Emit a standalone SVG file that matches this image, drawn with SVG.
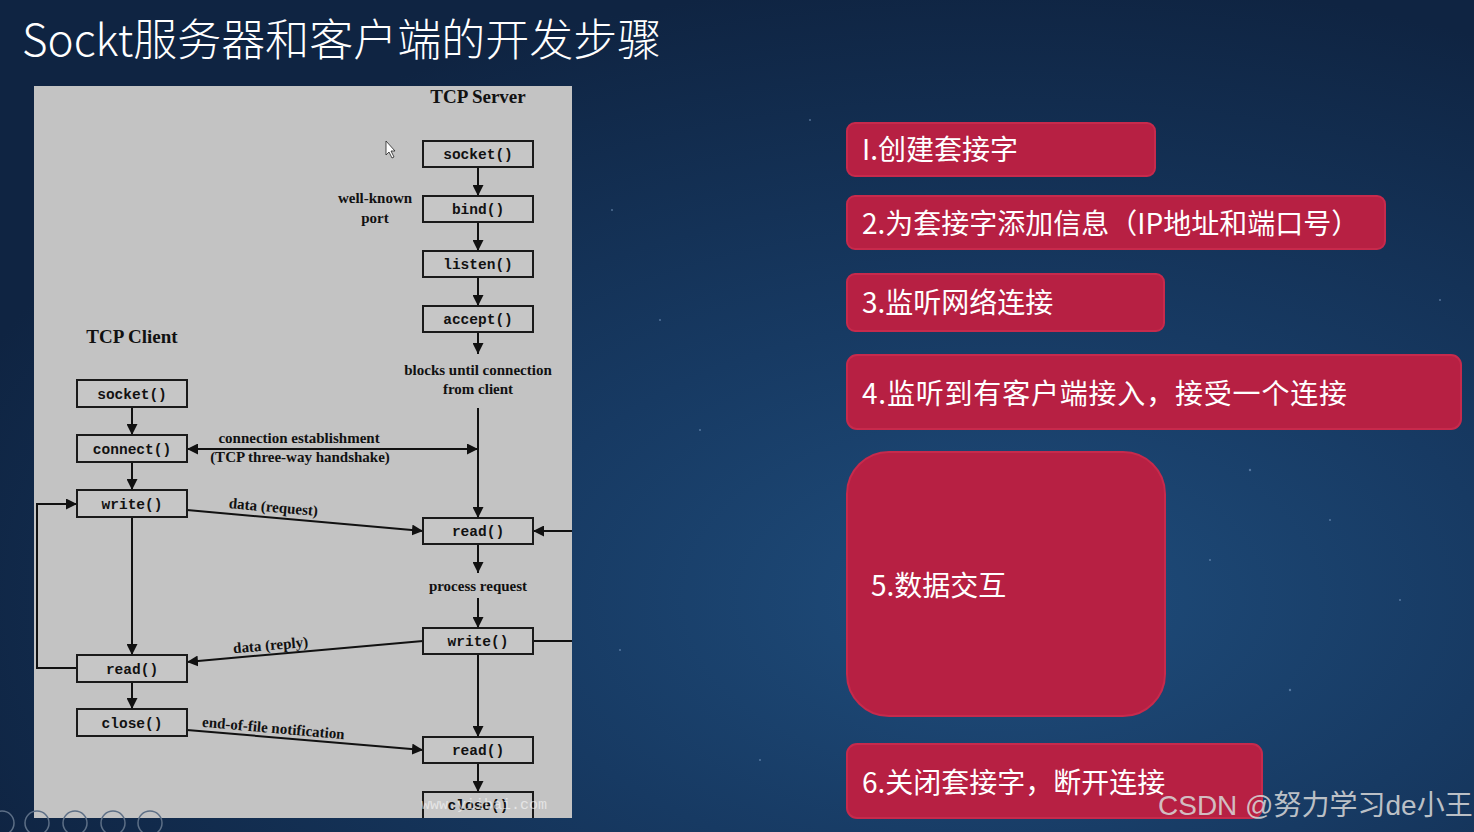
<svg xmlns="http://www.w3.org/2000/svg" width="1474" height="832" viewBox="0 0 1474 832">
<defs>
<radialGradient id="bg" cx="0.68" cy="0.72" r="0.75">
<stop offset="0" stop-color="#1f4d7c"/>
<stop offset="0.45" stop-color="#173a63"/>
<stop offset="1" stop-color="#0f2442"/>
</radialGradient>
<marker id="ah" viewBox="0 0 10 10" refX="10" refY="5" markerWidth="11" markerHeight="11" markerUnits="userSpaceOnUse" orient="auto-start-reverse">
<path d="M0,0 L10,5 L0,10 z" fill="#111"/>
</marker>
<style>
.panel{fill:#c3c3c3}
.fn{fill:#c6c6c6;stroke:#1a1a1a;stroke-width:2}
.fnt{font-family:"Liberation Mono",monospace;font-size:14.5px;font-weight:bold;fill:#111;text-anchor:middle}
.lbl{font-family:"Liberation Serif",serif;font-size:15px;font-weight:bold;fill:#111;text-anchor:middle}
.hd{font-family:"Liberation Serif",serif;font-size:19px;font-weight:bold;fill:#111;text-anchor:middle}
.ln{stroke:#111;stroke-width:2;fill:none}
.step{fill:#b72043;stroke:#c72a4c;stroke-width:2}
.stx{font-family:"Noto Sans CJK SC","Noto Sans",sans-serif;font-size:28px;fill:#ffffff}
.ttl{font-family:"Noto Sans CJK SC","Noto Sans",sans-serif;font-size:44px;font-weight:300;fill:#ffffff}
.ui{fill:none;stroke:#5d6f86;stroke-width:1.5}
</style>
</defs>
<rect width="1474" height="832" fill="url(#bg)"/>
<g fill="#8fb0d8" opacity="0.5">
<circle cx="612" cy="210" r="1"/><circle cx="700" cy="430" r="1"/><circle cx="810" cy="120" r="1"/><circle cx="1250" cy="470" r="1.2"/><circle cx="1330" cy="520" r="1"/><circle cx="1400" cy="600" r="1"/><circle cx="620" cy="650" r="1"/><circle cx="1440" cy="300" r="1"/><circle cx="760" cy="760" r="1"/><circle cx="1290" cy="690" r="1.2"/><circle cx="1210" cy="560" r="1"/><circle cx="660" cy="320" r="1"/>
</g>
<text class="ttl" x="22" y="56">Sockt服务器和客户端的开发步骤</text>

<g id="panel">
<rect class="panel" x="34" y="86" width="538" height="732"/>
<text class="hd" x="478" y="103">TCP Server</text>
<text class="hd" x="132" y="343">TCP Client</text>
<text class="lbl" x="375" y="203">well-known</text>
<text class="lbl" x="375" y="223">port</text>
<text class="lbl" x="478" y="375">blocks until connection</text>
<text class="lbl" x="478" y="394">from client</text>
<text class="lbl" x="299" y="443">connection establishment</text>
<text class="lbl" x="300" y="462">(TCP three-way handshake)</text>
<text class="lbl" x="273" y="512" transform="rotate(5 273 512)">data (request)</text>
<text class="lbl" x="478" y="591">process request</text>
<text class="lbl" x="271" y="650" transform="rotate(-5 271 650)">data (reply)</text>
<text class="lbl" x="273" y="733" transform="rotate(5 273 733)">end-of-file notification</text>
</g>

<g id="connectors">
<line class="ln" x1="478" y1="167" x2="478" y2="196" marker-end="url(#ah)"/>
<line class="ln" x1="478" y1="222" x2="478" y2="251" marker-end="url(#ah)"/>
<line class="ln" x1="478" y1="277" x2="478" y2="306" marker-end="url(#ah)"/>
<line class="ln" x1="478" y1="332" x2="478" y2="354" marker-end="url(#ah)"/>
<line class="ln" x1="478" y1="408" x2="478" y2="518" marker-end="url(#ah)"/>
<line class="ln" x1="187" y1="449" x2="478" y2="449" marker-start="url(#ah)" marker-end="url(#ah)"/>
<line class="ln" x1="187" y1="510" x2="423" y2="531" marker-end="url(#ah)"/>
<line class="ln" x1="572" y1="531" x2="533" y2="531" marker-end="url(#ah)"/>
<line class="ln" x1="478" y1="544" x2="478" y2="573" marker-end="url(#ah)"/>
<line class="ln" x1="478" y1="598" x2="478" y2="628" marker-end="url(#ah)"/>
<line class="ln" x1="533" y1="641" x2="572" y2="641"/>
<line class="ln" x1="423" y1="641" x2="187" y2="662" marker-end="url(#ah)"/>
<line class="ln" x1="478" y1="654" x2="478" y2="737" marker-end="url(#ah)"/>
<line class="ln" x1="478" y1="763" x2="478" y2="792" marker-end="url(#ah)"/>
<line class="ln" x1="132" y1="407" x2="132" y2="435" marker-end="url(#ah)"/>
<line class="ln" x1="132" y1="462" x2="132" y2="490" marker-end="url(#ah)"/>
<line class="ln" x1="132" y1="517" x2="132" y2="655" marker-end="url(#ah)"/>
<polyline class="ln" points="77,668 37,668 37,504 77,504" marker-end="url(#ah)"/>
<line class="ln" x1="132" y1="682" x2="132" y2="709" marker-end="url(#ah)"/>
<line class="ln" x1="187" y1="730" x2="423" y2="750" marker-end="url(#ah)"/>
</g>

<g id="s-socket"><rect class="fn" x="423" y="141" width="110" height="26"/><text class="fnt" x="478" y="159">socket()</text></g>
<g id="s-bind"><rect class="fn" x="423" y="196" width="110" height="26"/><text class="fnt" x="478" y="214">bind()</text></g>
<g id="s-listen"><rect class="fn" x="423" y="251" width="110" height="26"/><text class="fnt" x="478" y="269">listen()</text></g>
<g id="s-accept"><rect class="fn" x="423" y="306" width="110" height="26"/><text class="fnt" x="478" y="324">accept()</text></g>
<g id="s-read"><rect class="fn" x="423" y="518" width="110" height="26"/><text class="fnt" x="478" y="536">read()</text></g>
<g id="s-write"><rect class="fn" x="423" y="628" width="110" height="26"/><text class="fnt" x="478" y="646">write()</text></g>
<g id="s-read2"><rect class="fn" x="423" y="737" width="110" height="26"/><text class="fnt" x="478" y="755">read()</text></g>
<g id="s-close"><path class="fn" d="M423,818 L423,792 L533,792 L533,818"/><text class="fnt" x="478" y="810">close()</text></g>
<g id="c-socket"><rect class="fn" x="77" y="380" width="110" height="27"/><text class="fnt" x="132" y="399">socket()</text></g>
<g id="c-connect"><rect class="fn" x="77" y="435" width="110" height="27"/><text class="fnt" x="132" y="454">connect()</text></g>
<g id="c-write"><rect class="fn" x="77" y="490" width="110" height="27"/><text class="fnt" x="132" y="509">write()</text></g>
<g id="c-read"><rect class="fn" x="77" y="655" width="110" height="27"/><text class="fnt" x="132" y="674">read()</text></g>
<g id="c-close"><rect class="fn" x="77" y="709" width="110" height="27"/><text class="fnt" x="132" y="728">close()</text></g>

<text x="484" y="809" font-family="Liberation Mono,monospace" font-size="15" fill="#ffffff" opacity="0.55" text-anchor="middle">www.yiibai.com</text>
<path d="M386,141 L386,155 L389,152 L392,158 L394,157 L391,151 L395,151 Z" fill="#fff" stroke="#222" stroke-width="0.8"/>

<g id="ui">
<circle class="ui" cx="2" cy="823" r="12"/><circle class="ui" cx="37" cy="823" r="12"/><circle class="ui" cx="75" cy="823" r="12"/><circle class="ui" cx="113" cy="823" r="12"/><circle class="ui" cx="150" cy="823" r="12"/>
</g>

<g id="step1"><rect class="step" x="847" y="123" width="308" height="53" rx="8"/><text class="stx" x="862" y="160">I.创建套接字</text></g>
<g id="step2"><rect class="step" x="847" y="196" width="538" height="53" rx="8"/><text class="stx" x="862" y="234">2.为套接字添加信息（IP地址和端口号）</text></g>
<g id="step3"><rect class="step" x="847" y="274" width="317" height="57" rx="8"/><text class="stx" x="862" y="313">3.监听网络连接</text></g>
<g id="step4"><rect class="step" x="847" y="355" width="614" height="74" rx="10"/><text class="stx" x="862" y="404" textLength="485">4.监听到有客户端接入，接受一个连接</text></g>
<g id="step5"><rect class="step" x="847" y="452" width="318" height="264" rx="42"/><text class="stx" x="871" y="596">5.数据交互</text></g>
<g id="step6"><rect class="step" x="847" y="744" width="415" height="74" rx="10"/><text class="stx" x="862" y="793">6.关闭套接字，断开连接</text></g>
<text x="1158" y="815" font-family="Liberation Sans,Noto Sans CJK SC,sans-serif" font-size="28" fill="#d8d8d8" opacity="0.85">CSDN @努力学习de小王</text>
</svg>
